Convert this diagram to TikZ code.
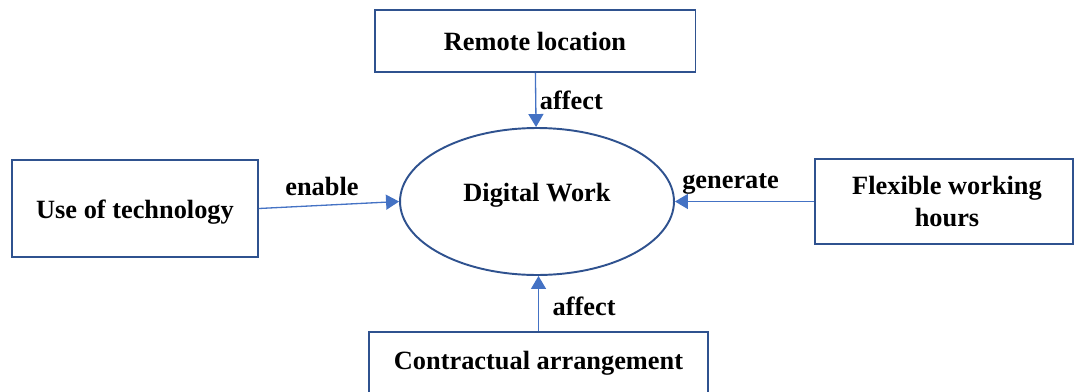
\documentclass[tikz,border=0pt]{standalone}
\usepackage{fontspec}
\setmainfont{Liberation Serif}
\usepackage{tikz}
\usetikzlibrary{arrows.meta}
\usetikzlibrary{shapes.geometric}
\definecolor{myblue}{RGB}{68,114,196}
\definecolor{mydarkblue}{RGB}{47,82,143}

\tikzset{
	box/.style={draw=mydarkblue, line width=1.1pt, rectangle, inner sep=0pt, align=center},
	link/.style={-{Triangle[length=0.26cm, width=0.3cm]}, draw=myblue, line width=0.75pt},
	lbl/.style={font=\fontsize{15}{18}\selectfont\bfseries, inner sep=2pt}
}

\begin{document}
\begin{tikzpicture}[x=0.02cm, y=-0.02cm, font=\fontsize{15}{18}\selectfont\bfseries]
	\useasboundingbox (0,0) rectangle (1075,392);

	\node[draw=mydarkblue, line width=1.1pt, ellipse, inner sep=0pt, minimum width=5.48cm, minimum height=2.94cm] (work) at (537,201.5) {\raisebox{0pt}[0pt][0pt]{Digital Work}};

	\node[box, minimum width=6.42cm, minimum height=1.24cm] (remote) at (535,41) {Remote location};
	\node[box, minimum width=4.92cm, minimum height=1.94cm] (tech) at (135,208.5) {\raisebox{-0.19cm}[0pt][0pt]{Use of technology}};
	\node[box, minimum width=5.16cm, minimum height=1.70cm] (flex) at (944,201.5) {\hspace*{0.12cm}Flexible working\\\hspace*{0.12cm}hours};
	\node[box, minimum width=6.78cm, minimum height=1.36cm] (contract) at (538.5,366) {\raisebox{-0.06cm}[0pt][0pt]{Contractual arrangement}};

	\draw[link] (remote) -- node[lbl, right, pos=0.5] {affect} (work);
	\draw[link] (tech.east) -- node[lbl, above, pos=0.45, yshift=0.1cm] {enable} (work.west);
	\draw[link] (flex.west) -- node[lbl, above, pos=0.6, yshift=0.06cm] {generate} (work.east);
	\draw[link] (contract.north) -- node[lbl, right, pos=0.45, xshift=0.2cm] {affect} (contract.north |- work.south);
\end{tikzpicture}
\end{document}
